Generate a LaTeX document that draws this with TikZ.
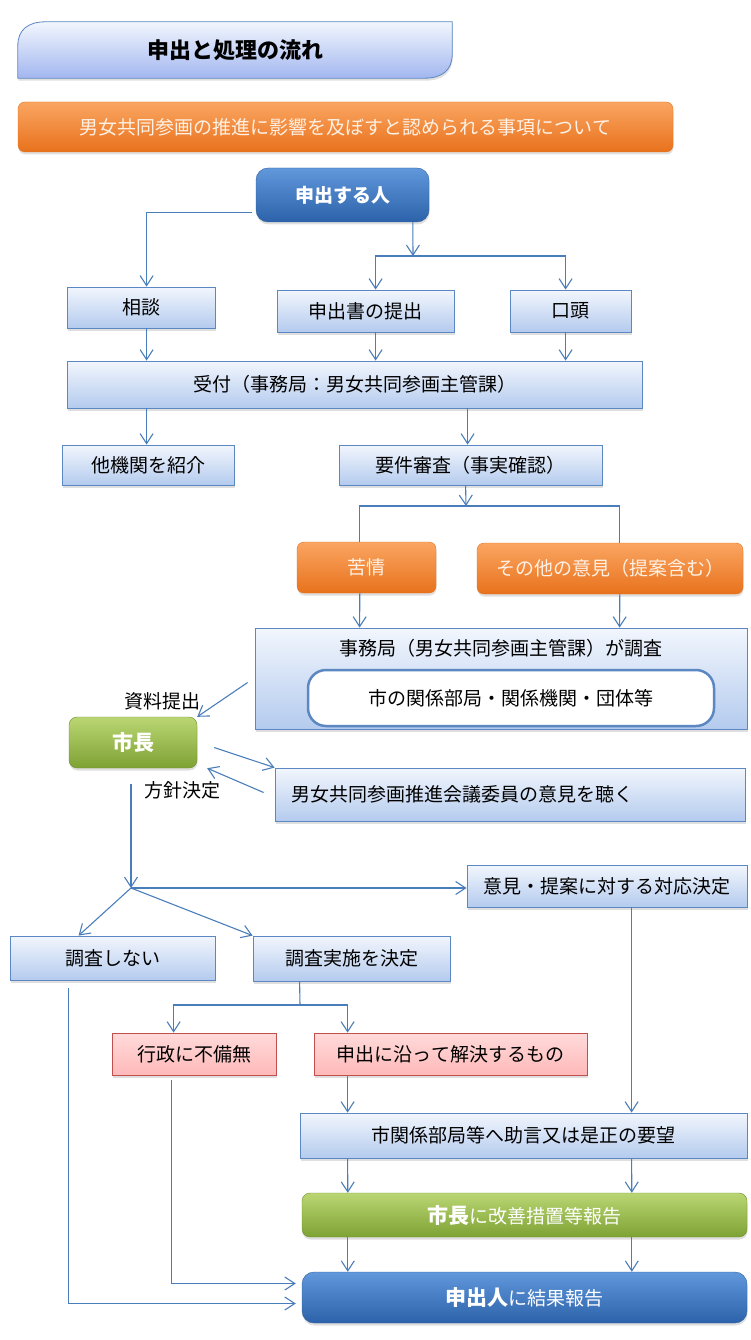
\documentclass[tikz,border=0pt]{standalone}
\usepackage{fontspec}
\setmainfont{Noto Sans CJK JP}
\usepackage{tikz}
\usetikzlibrary{arrows.meta,positioning,calc,shadows,backgrounds}

\definecolor{boxtop}{HTML}{F2F6FD}
\definecolor{boxbottom}{HTML}{B4CBEE}
\definecolor{boxedge}{HTML}{5B87C2}
\definecolor{orangetop}{HTML}{FAA562}
\definecolor{orangebottom}{HTML}{E8721C}
\definecolor{orangetext}{HTML}{FFF1E4}
\definecolor{bluetop}{HTML}{6198DC}
\definecolor{bluebottom}{HTML}{2C62A9}
\definecolor{blueedge}{HTML}{30609C}
\definecolor{greentop}{HTML}{BAD673}
\definecolor{greenbottom}{HTML}{7EA234}
\definecolor{greenedge}{HTML}{6F8F2E}
\definecolor{pinktop}{HTML}{FFDADA}
\definecolor{pinkbottom}{HTML}{FFB9B9}
\definecolor{pinkedge}{HTML}{C0504D}
\definecolor{flow}{HTML}{4A7EBB}

\begin{document}
\begin{tikzpicture}[
    x=1pt, y=-1pt,
    font=\fontsize{19pt}{21pt}\selectfont,
    boxshadow/.style={drop shadow={shadow xshift=0.5pt, shadow yshift=-2.5pt, opacity=0.25}},
    panel/.style={rectangle, draw=boxedge, line width=0.8pt, top color=boxtop, bottom color=boxbottom, inner sep=2pt, boxshadow},
    banner/.style={rectangle, rounded corners=7pt, top color=orangetop, bottom color=orangebottom, draw=orangebottom, text=orangetext, inner sep=2pt, boxshadow},
    personbox/.style={rectangle, rounded corners=12pt, top color=bluetop, bottom color=bluebottom, draw=blueedge, text=white, inner sep=2pt, boxshadow},
    mayorbox/.style={rectangle, rounded corners=8pt, top color=greentop, bottom color=greenbottom, draw=greenedge, text=white, inner sep=2pt, boxshadow},
    pinkbox/.style={rectangle, draw=pinkedge, line width=0.8pt, top color=pinktop, bottom color=pinkbottom, inner sep=2pt, boxshadow},
    whitebox/.style={rectangle, rounded corners=18pt, draw=boxedge, line width=2.5pt, fill=white, inner sep=2pt},
    note/.style={inner sep=1pt},
    arrow/.style={draw=flow, line width=1.1pt, -{Straight Barb[length=10pt,width=13pt]}},
    link/.style={draw=flow, line width=1.1pt}
]
\useasboundingbox (0,0) rectangle (750,1340);

% title and theme
\node[minimum width=434pt, minimum height=56pt, font=\fontsize{22pt}{24pt}\selectfont\bfseries] (title) at (235,50) {申出と処理の流れ};
\begin{scope}[on background layer]
\shade[top color=boxtop, bottom color=boxbottom!90!blue, draw=boxedge, line width=0.8pt, boxshadow]
    (title.south west) -- ($(title.north west)+(0,24)$)
    .. controls ($(title.north west)+(0,8)$) and ($(title.north west)+(10,0)$) .. ($(title.north west)+(28,0)$)
    -- (title.north east) -- ($(title.south east)+(0,-24)$)
    .. controls ($(title.south east)+(0,-8)$) and ($(title.south east)+(-10,0)$) .. ($(title.south east)+(-28,0)$)
    -- cycle;
\end{scope}
\node[banner, minimum width=655pt, minimum height=50pt] (theme) at (345.5,127) {男女共同参画の推進に影響を及ぼすと認められる事項について};

% intake
\node[personbox, minimum width=173pt, minimum height=54pt, font=\fontsize{19pt}{21pt}\selectfont\bfseries] (person) at (342.5,195) {申出する人};
\node[panel, minimum width=148pt, minimum height=41pt] (consult) at (141,307.5) {相談};
\node[panel, minimum width=177pt, minimum height=42pt] (document) at (365.5,311) {申出書の提出};
\node[panel, minimum width=121pt, minimum height=42pt] (oral) at (570.5,311) {口頭};
\node[panel, minimum width=575pt, minimum height=47pt] (reception) at (354.5,384.5) {受付（事務局：男女共同参画主管課）};
\node[panel, minimum width=172pt, minimum height=40pt] (referral) at (148,465) {他機関を紹介};
\node[panel, minimum width=263pt, minimum height=40pt] (review) at (470.5,465) {要件審査（事実確認）};

% investigation
\node[banner, minimum width=139pt, minimum height=51pt] (complaint) at (366.5,567.5) {苦情};
\node[banner, minimum width=266pt, minimum height=51pt] (opinion) at (610,568.5) {その他の意見（提案含む）};
\node[panel, minimum width=492pt, minimum height=101pt,
      label={[anchor=north, yshift=-8pt]north:事務局（男女共同参画主管課）が調査}] (office) at (501,678.5) {};
\node[whitebox, minimum width=406pt, minimum height=56pt] (bodies) at (511,698) {市の関係部局・関係機関・団体等};
\node[mayorbox, minimum width=128pt, minimum height=51pt, font=\fontsize{21pt}{23pt}\selectfont\bfseries] (mayor) at (133,742.5) {市長};
\node[note] (submit) at (162,701) {資料提出};
\node[panel, minimum width=470pt, minimum height=53pt, text width=438pt, align=left, inner xsep=16pt] (council) at (510,794.5) {男女共同参画推進会議委員の意見を聴く};
\node[note] (policy) at (182,790) {方針決定};

% decisions
\node[panel, minimum width=280pt, minimum height=42pt] (response) at (607,886) {意見・提案に対する対応決定};
\node[panel, minimum width=205pt, minimum height=44pt] (noinvest) at (112.5,958) {調査しない};
\node[panel, minimum width=197pt, minimum height=45pt] (invest) at (351.5,958.5) {調査実施を決定};
\node[pinkbox, minimum width=164pt, minimum height=42pt] (nofault) at (194,1054) {行政に不備無};
\node[pinkbox, minimum width=273pt, minimum height=42pt] (resolve) at (450.5,1054) {申出に沿って解決するもの};
\node[panel, minimum width=447pt, minimum height=45pt] (advice) at (523.5,1135.5) {市関係部局等へ助言又は是正の要望};
\node[mayorbox, minimum width=445pt, minimum height=44pt] (report) at (524.5,1215) {{\fontsize{21pt}{23pt}\selectfont\bfseries 市長}に改善措置等報告};
\node[personbox, minimum width=445pt, minimum height=51pt] (result) at (524.5,1297.5) {{\fontsize{21pt}{23pt}\selectfont\bfseries 申出人}に結果報告};

% junctions
\coordinate (split) at (413,256);
\coordinate (branch) at (466,506);
\coordinate (fork) at (131,888);
\coordinate (bar) at (300,1005);

% connectors
\draw[arrow] ($(person.south west)+(-4,-10)$) -| ($(consult.north west)+(80,0)$);
\draw[arrow] ($(person.south west)+(157,0)$) -- (split);
\draw[arrow] (split) -| ($(document.north west)+(99,0)$);
\draw[arrow] (split) -| ($(oral.north west)+(56,0)$);
\draw[arrow] ($(consult.south west)+(80,0)$) -- ($(reception.north west)+(80,0)$);
\draw[arrow] ($(document.south west)+(99,0)$) -- ($(reception.north west)+(309,0)$);
\draw[arrow] ($(oral.south west)+(56,0)$) -- ($(reception.north west)+(499,0)$);
\draw[arrow] ($(reception.south west)+(80,0)$) -- ($(referral.north west)+(85,0)$);
\draw[arrow] ($(reception.south west)+(401,0)$) -- ($(review.north west)+(129,0)$);
\draw[arrow] ($(review.south west)+(127,0)$) -- (branch);
\draw[link] (branch) -| ($(complaint.north west)+(63,0)$);
\draw[link] (branch) -| ($(opinion.north west)+(143,0)$);
\draw[arrow] ($(complaint.south west)+(63,0)$) -- ($(office.north west)+(105,0)$);
\draw[arrow] ($(opinion.south west)+(143,0)$) -- ($(office.north west)+(365,0)$);
\draw[arrow] ($(office.west)+(-7,4)$) -- (mayor.north east);
\draw[arrow] ($(mayor.east)+(17,5)$) -- (council.north west);
\draw[arrow] ($(council.west)+(-11,-2)$) -- ($(mayor.south east)+(10,0)$);
\draw[arrow] ($(mayor.south)+(-2,16)$) -- (fork);
\draw[arrow] (fork) -- (fork -| response.west);
\draw[arrow] (fork) -- ($(noinvest.north west)+(69,0)$);
\draw[arrow] (fork) -- (invest.north west);
\draw[link] ($(invest.south west)+(47,0)$) -- (bar);
\draw[arrow] (bar) -| ($(nofault.north west)+(62,0)$);
\draw[arrow] (bar) -| ($(resolve.north west)+(34,0)$);
\draw[arrow] ($(resolve.south west)+(34,0)$) -- ($(advice.north west)+(48,0)$);
\draw[arrow] ($(response.south west)+(165,0)$) -- ($(advice.north west)+(332,0)$);
\draw[arrow] ($(advice.south west)+(48,0)$) -- ($(report.north west)+(46,0)$);
\draw[arrow] ($(advice.south west)+(332,0)$) -- ($(report.north west)+(330,0)$);
\draw[arrow] ($(report.south west)+(46,0)$) -- ($(result.north west)+(46,0)$);
\draw[arrow] ($(report.south west)+(330,0)$) -- ($(result.north west)+(330,0)$);
\draw[arrow] ($(nofault.south west)+(60,5)$) |- ($(result.west)+(-6,-14)$);
\draw[arrow] ($(noinvest.south west)+(59,8)$) |- ($(result.west)+(-6,6)$);

\end{tikzpicture}
\end{document}
